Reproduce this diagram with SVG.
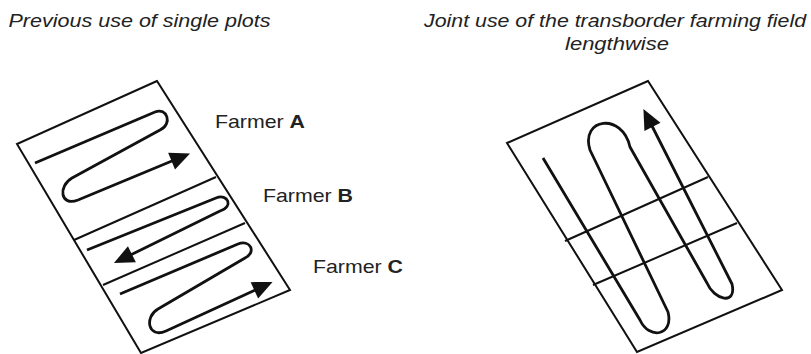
<svg xmlns="http://www.w3.org/2000/svg" width="811" height="354" viewBox="0 0 811 354">
<style>
.t{font-family:"Liberation Sans",Arial,sans-serif;font-size:18.5px;fill:#222}
.ti{font-style:italic}
.b{font-weight:bold}
.edge{fill:none;stroke:#111;stroke-width:2;stroke-linejoin:miter}
.track{fill:none;stroke:#111;stroke-width:2.8;stroke-linecap:butt;stroke-linejoin:round}
</style>
<defs>
<marker id="ah" markerUnits="userSpaceOnUse" viewBox="0 0 20 18" markerWidth="20" markerHeight="18" refX="1" refY="9" orient="auto" overflow="visible">
<path d="M0,0 L20,9 L0,18 Z" fill="#111"/>
</marker>
</defs>
<rect width="811" height="354" fill="#fff"/>
<g id="titles">
<text class="t ti" x="8.5" y="26.5" textLength="262" lengthAdjust="spacingAndGlyphs">Previous use of single plots</text>
<text class="t ti" x="424" y="26.5" textLength="382" lengthAdjust="spacingAndGlyphs">Joint use of the transborder farming field</text>
<text class="t ti" x="565" y="50" textLength="104" lengthAdjust="spacingAndGlyphs">lengthwise</text>
</g>
<g id="field-left">
<polygon class="edge" points="157,81 17,144 141,353 290,290"/>
<line class="edge" x1="74" y1="240" x2="216" y2="177"/>
<line class="edge" x1="103" y1="285" x2="245" y2="223"/>
</g>
<g id="labels">
<text class="t" x="215" y="128" textLength="90" lengthAdjust="spacingAndGlyphs">Farmer <tspan class="b">A</tspan></text>
<text class="t" x="263" y="202" textLength="90" lengthAdjust="spacingAndGlyphs">Farmer <tspan class="b">B</tspan></text>
<text class="t" x="313" y="273" textLength="90" lengthAdjust="spacingAndGlyphs">Farmer <tspan class="b">C</tspan></text>
</g>
<g id="field-right">
<polygon class="edge" points="648,81 507,143 637,352 782,290"/>
<line class="edge" x1="565" y1="241" x2="708" y2="177"/>
<line class="edge" x1="593" y1="285" x2="737" y2="223"/>
</g>
<g id="connectors">
<path id="track-A" class="track" marker-end="url(#ah)" d="M35,163 L155,112 C167,107 173,124 160,130 L72,178 C58,186 60,207 78,200 L172.5,160.7"/>
<path id="track-B" class="track" marker-end="url(#ah)" d="M87,250 L216,198 C228,193 234,207 220,211 L131,254.7"/>
<path id="track-C" class="track" marker-end="url(#ah)" d="M120,294 L238,244 C250,239 257,252 245,258 L158,309 C144,317 148,339 166,331 L255.3,289.9"/>
<path id="track-joint" class="track" marker-end="url(#ah)" d="M543,158 L640,320 C649,340 674,336 668,312 L590,150 C580,118 622,112 630,147 L707,283 C714,300 737,306 732,284 L652,126"/>
</g>
</svg>
